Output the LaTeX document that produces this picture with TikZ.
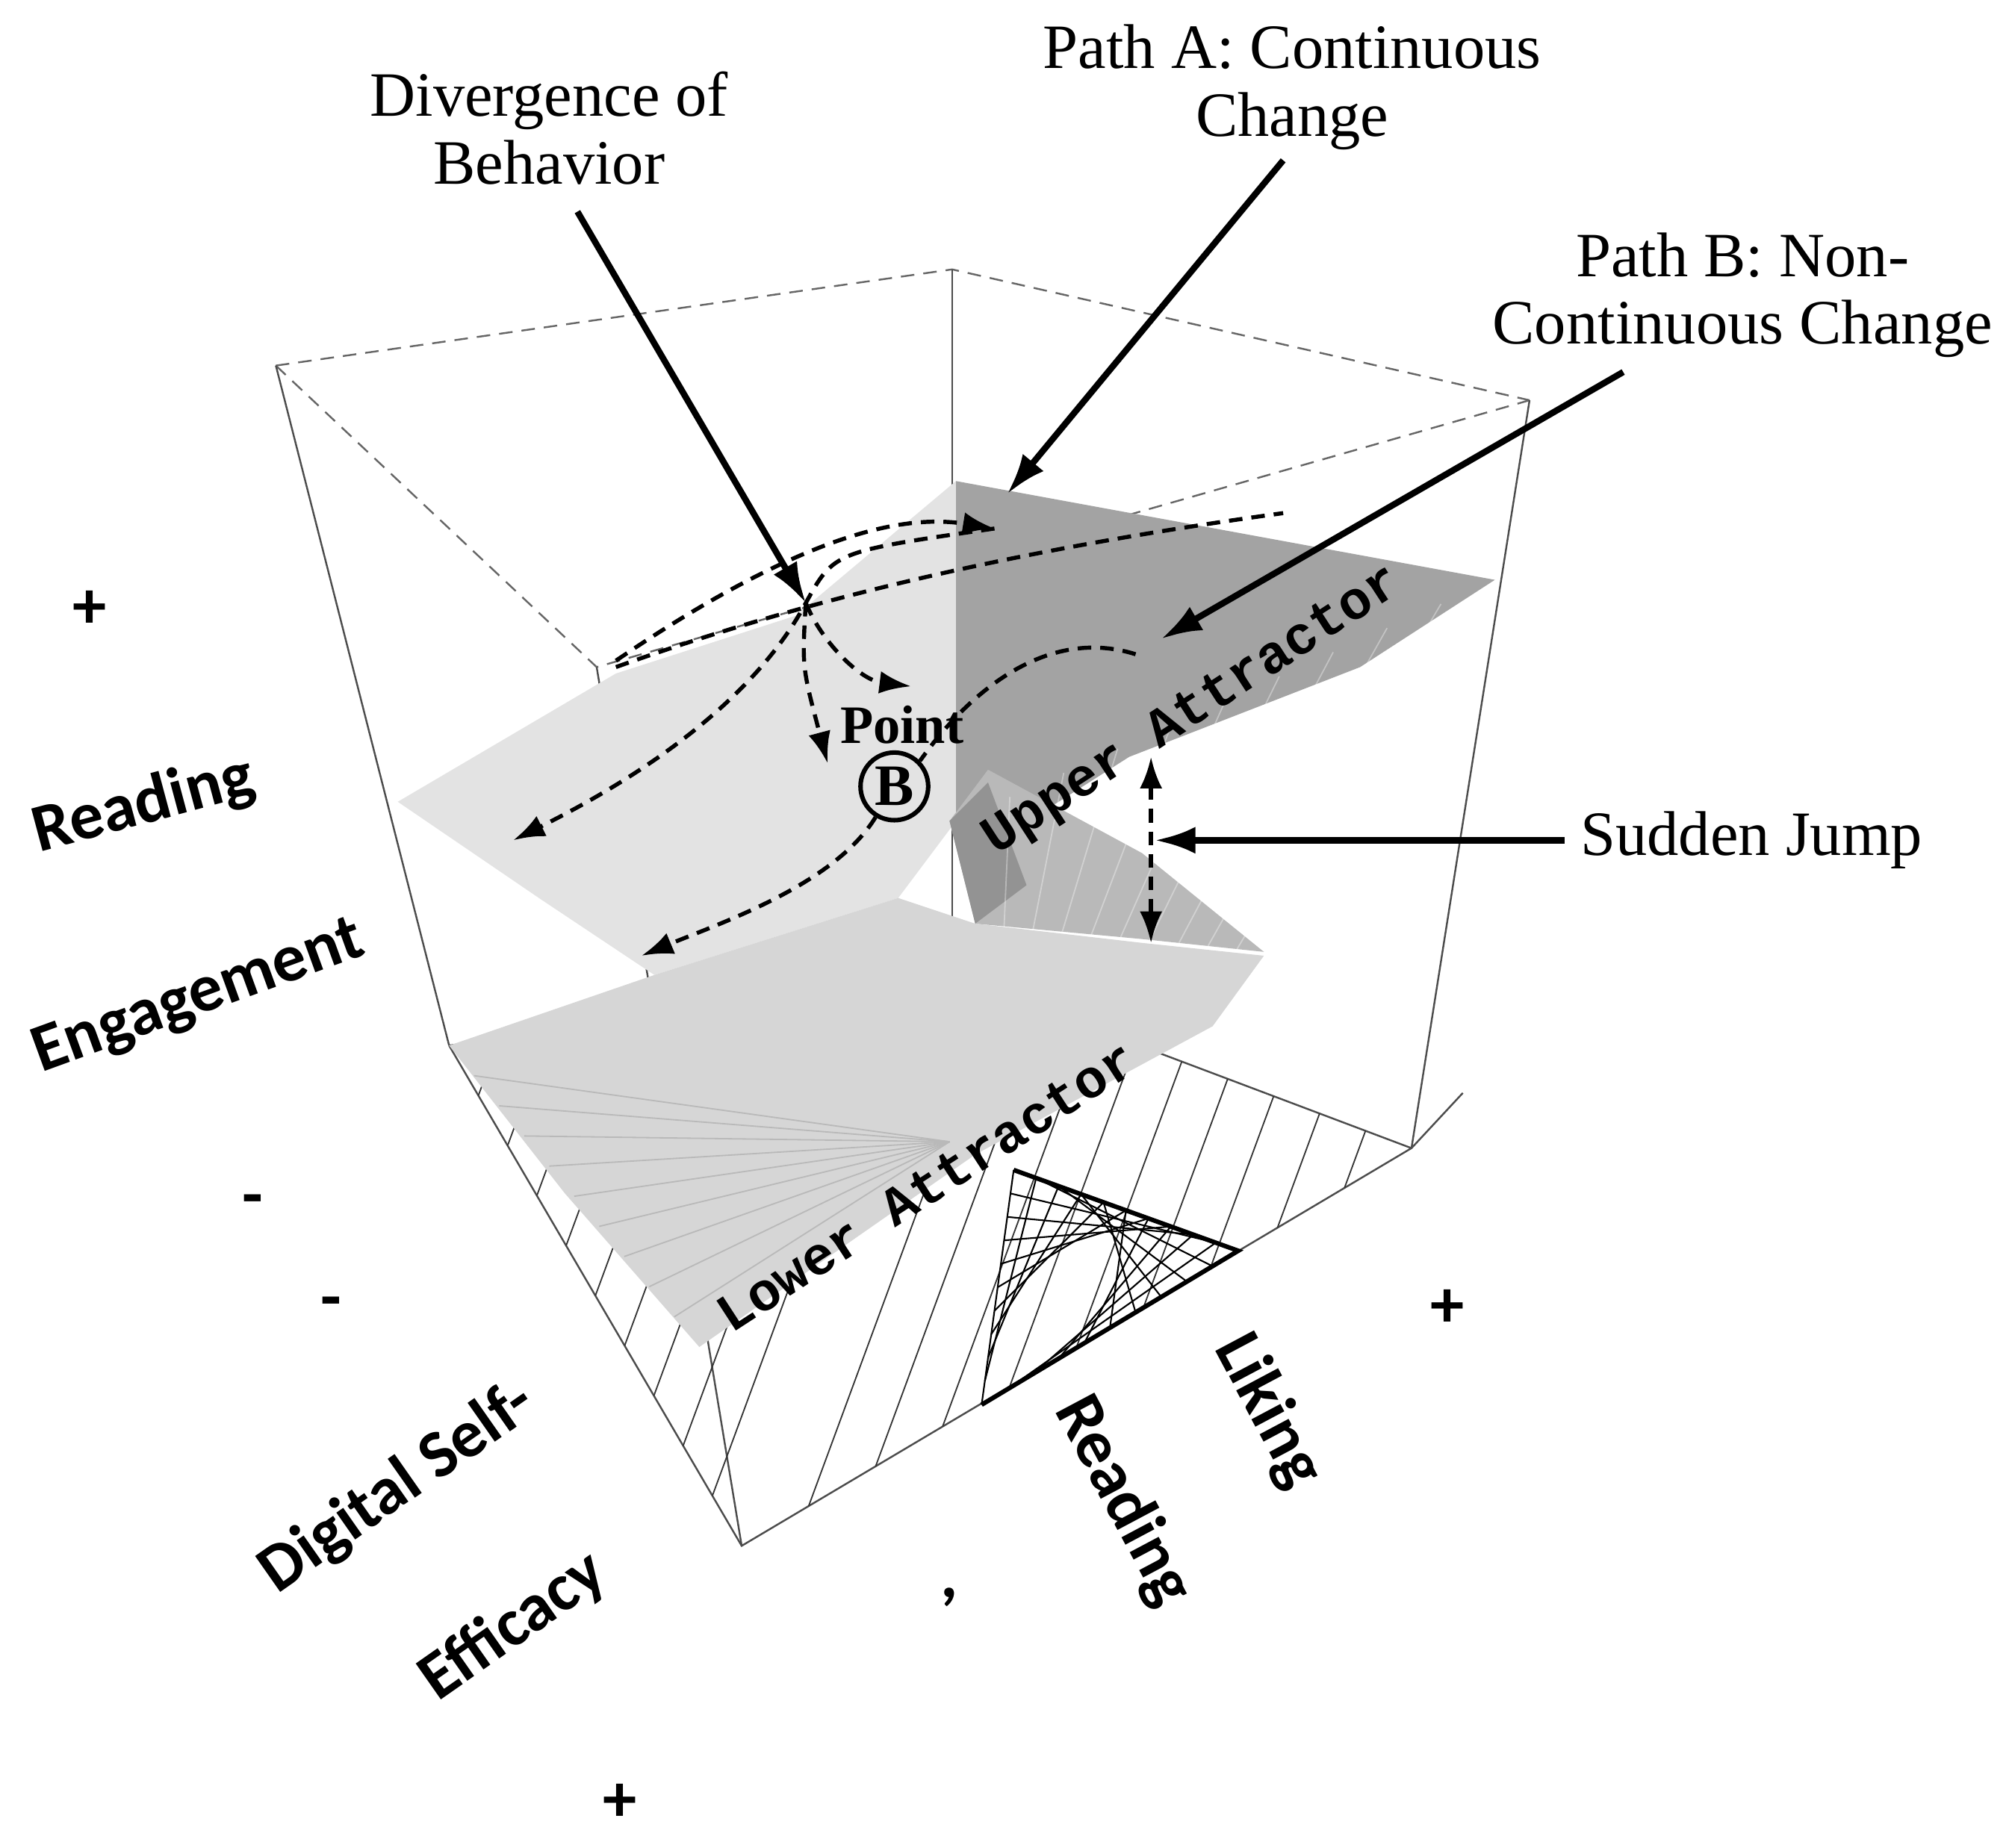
\documentclass[tikz,border=0pt]{standalone}
\usepackage{fontspec}
\setmainfont{Liberation Serif}
\newfontfamily\axf{Carlito}
\newfontfamily\monf{Liberation Mono}
\usetikzlibrary{arrows.meta,calc}
\begin{document}
\begin{tikzpicture}[x=0.1mm,y=-0.1mm,
  box/.style={draw=black!70,line width=0.4pt},
  hid/.style={draw=black!60,densely dashed,line width=0.4pt},
  lab/.style={font=\fontsize{14}{15}\selectfont,align=center},
  ax/.style={font=\axf\bfseries\fontsize{15}{16}\selectfont},
  arr/.style={-{Latex[length=9pt,width=6pt]},line width=1.4pt},
  dar/.style={-{Latex[length=7pt,width=5pt]},densely dashed,line width=0.9pt},
  hatch/.style={draw=black!80,line width=0.3pt}]
\useasboundingbox (0,0) rectangle (1568,1440);
% box back/top
\draw[hid] (215,285) -- (742,210) -- (1192,312);
\draw[hid] (215,285) -- (465,520) -- (1192,312);
\draw[box] (742,210) -- (742,760);
\draw[box] (215,285) -- (350,815);
\draw[box] (465,520) -- (578,1205);
\draw[box] (1192,312) -- (1100,895);
% bottom face
\draw[box] (350,815) -- (578,1205) -- (1100,895) -- (1140,852);
\draw[box] (350,815) -- (742,760) -- (1100,895);
% bottom hatching
\foreach \t in {0.1,0.2,...,0.9}{
  \draw[hatch] ($(350,815)!\t!(578,1205)$) -- ($(350,815)!\t!(742,760)$);
  \draw[hatch] ($(578,1205)!\t!(1100,895)$) -- ($(742,760)!\t!(1100,895)$);
}
% light upper sheet
\path[fill=gray!22] (310,625) -- (480,525) -- (620,480) -- (745,375) -- (745,640) -- (700,700) -- (510,760) -- (420,700) -- cycle;
% lower light sheet
\path[fill=gray!32] (350,815) -- (510,760) -- (700,700) -- (760,720) -- (890,735) -- (985,745) -- (945,800) -- (760,900) -- (545,1050) -- (440,930) -- cycle;
% dark upper sheet
\path[fill=gray!72] (745,375) -- (1165,452) -- (1060,520) -- (880,590) -- (770,660) -- (745,640) -- cycle;
% fold
\path[fill=gray!55] (740,640) -- (770,600) -- (890,665) -- (985,742) -- (890,732) -- (760,720) -- cycle;
\path[fill=gray!85] (740,640) -- (770,610) -- (800,690) -- (760,720) -- cycle;
% surface shading lines
\foreach \t in {0.1,0.2,...,0.9}{
  \draw[white,opacity=0.35,line width=0.3pt] ($(760,720)!\t!(985,745)$) -- ($(745,640)!\t!(1165,452)$);
  \draw[gray!55,line width=0.3pt] ($(350,815)!\t!(545,1050)$) -- (740,890);
}
% cusp region
\foreach \t in {0,0.1,...,1}{
  \draw[black,line width=0.35pt] ($(790,912)!\t!(965,975)$) -- ($(765,1095)!\t!(790,912)$);
  \draw[black,line width=0.35pt] ($(965,975)!\t!(765,1095)$) -- ($(790,912)!\t!(965,975)$);
}
\draw[line width=1pt] (790,912) -- (965,975) -- (765,1095);
% surface labels
\node[rotate=33,font=\monf\bfseries\fontsize{12}{13}\selectfont] (ua) at (930,555) {Upper Attractor};
\node[rotate=33,font=\monf\bfseries\fontsize{12}{13}\selectfont] (la) at (722,925) {Lower Attractor};
% point B
\node[draw,circle,line width=1pt,inner sep=1pt,font=\bfseries\fontsize{13}{14}\selectfont] (pb) at (697,613) {B};
\node[font=\bfseries\fontsize{12}{13}\selectfont] (pt) at (703,565) {Point};
% dashed paths
\coordinate (d1) at (628,470);
\coordinate (p1) at (480,515);
\coordinate (p2) at (775,412);
\coordinate (p3) at (400,655);
\coordinate (p4) at (885,510);
\coordinate (p5) at (500,745);
\coordinate (p6) at (710,535);
\coordinate (p7) at (645,595);
\draw[dar] (p1) .. controls (620,420) and (700,400) .. (p2);
\draw[dar] (p2) .. controls (650,430) .. (d1) .. controls (580,560) and (470,620) .. (p3);
\draw[dar] (d1) .. controls (640,500) and (670,530) .. (p6);
\draw[dar] (d1) .. controls (625,520) .. (p7);
\draw[dar] (p4) .. controls (790,480) and (720,590) .. (pb) .. controls (650,690) and (560,720) .. (p5);
\draw[densely dashed,line width=0.9pt] (480,520) .. controls (620,470) and (780,430) .. (1000,400);
\draw[dar,{Latex[length=7pt,width=5pt]}-{Latex[length=7pt,width=5pt]}] (897,590) -- (897,735);
% labels and arrows
\node[lab] (div) at (428,100) {Divergence of\\Behavior};
\node[lab] (pa) at (1007,68) {Path A: Continuous\\Change};
\node[lab] (pbl) at (1358,230) {Path B: Non-\\Continuous Change};
\node[lab] (sj) at (1365,655) {Sudden Jump};
\coordinate (da) at (450,165);
\coordinate (pas) at (1000,125);
\coordinate (pbs) at (1265,290);
\draw[arr] (da) -- (d1);
\draw[arr] (pas) -- (785,385);
\draw[arr] (pbs) -- (905,498);
\draw[arr] (sj.west) -- (900,655);
% axis labels
\node[ax] (pl1) at (70,475) {+};
\node[ax,rotate=15] (rd) at (112,628) {Reading};
\node[ax,rotate=20] (en) at (155,778) {Engagement};
\node[ax] (m1) at (197,940) {-};
\node[ax] (m2) at (258,1020) {-};
\node[ax,rotate=35] (ds) at (310,1160) {Digital Self-};
\node[ax,rotate=35] (ef) at (400,1268) {Efficacy};
\node[ax] (pl2) at (483,1405) {+};
\node[ax] (m3) at (740,1245) {,};
\node[ax,rotate=-62] (rd2) at (875,1170) {Reading};
\node[ax,rotate=-62] (lk) at (988,1100) {Liking};
\node[ax] (pl3) at (1128,1020) {+};
\end{tikzpicture}
\end{document}
